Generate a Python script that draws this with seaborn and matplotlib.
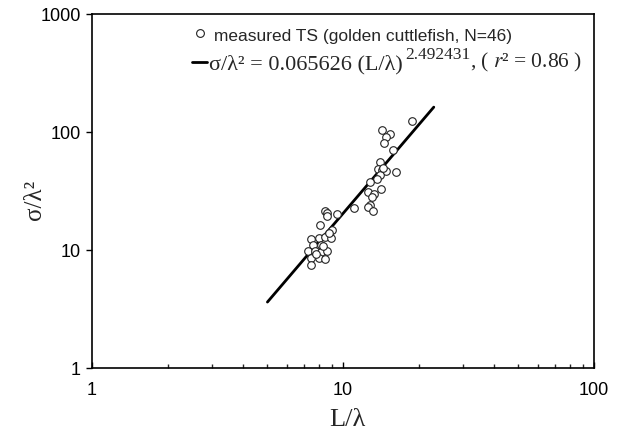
import numpy as np
import pandas as pd
import matplotlib
matplotlib.use("Agg")
import matplotlib.pyplot as plt
from matplotlib.ticker import LogLocator, NullLocator, FixedLocator, FixedFormatter
from matplotlib.lines import Line2D
import seaborn as sns

# measured points (L/lambda, sigma/lambda^2)
l_over_lambda = [18.9, 14.26, 15.43, 14.80, 14.61, 15.82, 14.08, 13.75, 14.26, 14.84,
                 16.22, 14.08, 13.66, 12.78, 14.13, 12.54, 13.33, 13.08, 12.81, 12.61,
                 13.21, 11.06, 9.46, 8.48, 8.60, 8.64, 8.10, 9.02, 7.44, 8.00,
                 8.50, 8.98, 7.60, 8.20, 7.25, 7.72, 8.15, 8.66, 7.48, 8.00,
                 8.46, 7.48, 7.84, 8.36, 8.80, 14.43]
sigma_over_lambda2 = [124, 104, 96, 90, 80, 71, 56, 49, 48, 47,
                      46, 43, 40, 38, 33, 31, 29.8, 28, 24, 23,
                      21.5, 22.5, 20.4, 21.4, 20.8, 19.5, 16.2, 14.7, 12.4, 12.6,
                      12.8, 12.7, 11.1, 11.1, 9.86, 9.8, 9.7, 9.86, 8.64, 8.55,
                      8.39, 7.5, 9.3, 10.8, 13.9, 50]

# regression sigma/lambda^2 = a (L/lambda)^b, drawn between these L/lambda
fit_a = 0.065626
fit_b = 2.492431
fit_r2 = 0.86
fit_range = [5.0, 23.0]

pts = pd.DataFrame({"x": l_over_lambda, "y": sigma_over_lambda2})
fit = pd.DataFrame({"x": fit_range})
fit["y"] = fit_a * fit["x"] ** fit_b

sns.set_theme(style="white")
plt.rcParams["font.family"] = ["Liberation Sans", "DejaVu Sans"]
plt.rcParams["mathtext.fontset"] = "stix"

fig = plt.figure(figsize=(6.19, 4.33), dpi=100)
ax = fig.add_axes([0.1486, 0.150, 0.811, 0.8176])

sns.lineplot(data=fit, x="x", y="y", color="black", linewidth=2.0, ax=ax)
sns.scatterplot(data=pts, x="x", y="y", marker="o", s=30, facecolor="white",
                edgecolor="#222222", linewidth=0.8, ax=ax, zorder=3)

ax.set_xscale("log")
ax.set_yscale("log")
ax.set_xlim(1, 100)
ax.set_ylim(1, 1000)

for s in ax.spines.values():
    s.set_color("black")
    s.set_linewidth(1.2)

ax.xaxis.set_major_locator(FixedLocator([1, 10, 100]))
ax.xaxis.set_major_formatter(FixedFormatter(["1", "10", "100"]))
ax.xaxis.set_minor_locator(LogLocator(base=10, subs=np.arange(2, 10)))
ax.yaxis.set_major_locator(FixedLocator([1, 10, 100, 1000]))
ax.yaxis.set_major_formatter(FixedFormatter(["1", "10", "100", "1000"]))
ax.yaxis.set_minor_locator(NullLocator())
ax.tick_params(axis="x", which="major", direction="in", length=4, width=1,
               labelsize=13, pad=10, bottom=True, colors="black")
ax.tick_params(axis="x", which="minor", direction="in", length=3, width=1,
               bottom=True)
ax.tick_params(axis="y", which="major", direction="out", length=4, width=1,
               labelsize=13, pad=4, left=True, colors="black")

ax.set_xlabel("L/λ", family="Liberation Serif", fontsize=19)
ax.set_ylabel("σ/λ²", family="Liberation Serif", fontsize=18)
ax.xaxis.set_label_coords(0.508, -0.115)
ax.yaxis.set_label_coords(-0.092, 0.475)

handles = [
    Line2D([], [], marker="o", linestyle="none", markersize=5.6,
           markerfacecolor="white", markeredgecolor="#222222", markeredgewidth=0.8),
    Line2D([], [], color="black", linewidth=2.0),
]
labels = [" measured TS (golden cuttlefish, N=46)", "σ/λ² = 0.065626 (L/λ)"]
leg = ax.legend(handles, labels, loc="upper left", bbox_to_anchor=(0.199, 0.968),
                frameon=False, prop={"family": "Liberation Serif", "size": 16},
                handlelength=0.7, handletextpad=0.05, labelspacing=0.45,
                borderpad=0, borderaxespad=0)
row1, row2 = leg.get_texts()
row1.set_fontfamily("Liberation Sans")
row1.set_fontsize(12.5)

# exponent and r^2 tail of the fit label, chained after the legend text
# (zorder above the legend so they are placed after it is laid out)
sup = ax.annotate(f"{fit_b:.6f}", xy=(1.0, 0.6), xycoords=row2,
                  xytext=(2, 0), textcoords="offset points",
                  ha="left", va="bottom", family="Liberation Serif", fontsize=12.5,
                  zorder=10)
ax.annotate(f", ( $\\mathit{{r}}$² = {fit_r2:.2f} )", xy=(1.0, 0.0), xycoords=(sup, row2),
            ha="left", va="bottom", family="Liberation Serif", fontsize=15.5,
            zorder=11)

fig.savefig("out.png", dpi=100)
